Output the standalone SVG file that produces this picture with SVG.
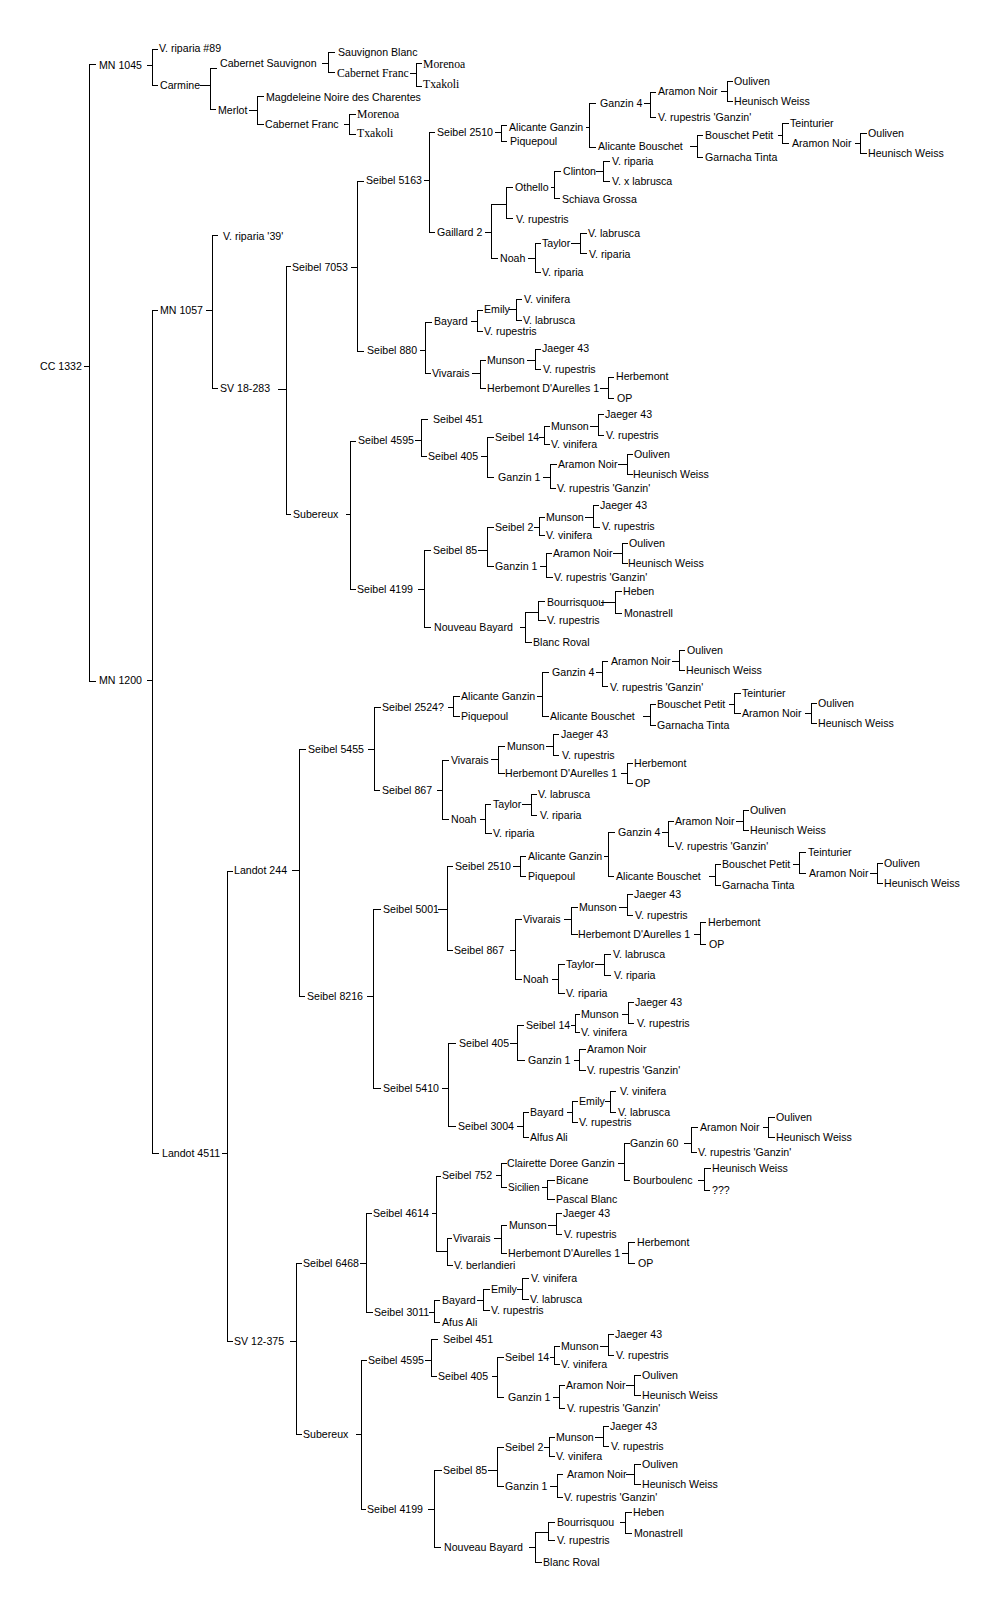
<svg xmlns="http://www.w3.org/2000/svg" width="1007" height="1603" viewBox="0 0 1007 1603">
<style>
text{font-family:"Liberation Sans",Arial,sans-serif;font-size:10.6px;fill:#000}
text.s{font-family:"Liberation Serif","Times New Roman",serif;font-size:11.7px}
text.sm{font-size:10px}
#connectors path{stroke:#000;stroke-width:1;fill:none;shape-rendering:crispEdges}
</style>
<rect width="1007" height="1603" fill="#fff"/>
<g id="connectors" transform="translate(0.5,0.5)">
<path d="M83 366H89 M95 64H89V681H95 M146 65H152 M157 49H152V85H157 M199 85H210 M216 68H210V109H215 M321 63H328 M334 52H328V72H334 M409 73H416 M421 63H416V86H421 M248 110H257 M263 96H257V124H263 M343 124H349 M355 114H349V134H355"/>
<path d="M146 680H152 M157 310H152V1153H158 M205 310H212 M217 235H212V388H217 M277 389H286 M290 266H286V514H290 M350 267H357 M363 181H357V351H363 M423 180H429 M434 132H429V232H434 M494 132H501 M506 125H501V141H506 M585 127H589 M595 103H589V147H595 M643 103H650 M655 92H650V117H655 M720 91H727 M732 81H727V101H732 M689 146H697 M702 135H697V157H702 M777 135H782 M788 123H782V143H788 M854 143H860 M866 133H860V153H866"/>
<path d="M484 232H491 M506 204H491V258H497 M512 187H506V218H512 M550 187H554 M560 171H554V198H559 M595 171H603 M609 161H603V181H609 M527 258H535 M540 243H535V272H540 M570 243H580 M586 233H580V253H586"/>
<path d="M419 350H425 M431 322H425V373H430 M470 321H477 M482 310H477V331H482 M508 309H516 M521 299H516V320H521 M471 373H480 M485 360H480V388H485 M526 360H535 M540 349H535V369H540 M599 388H608 M613 377H608V398H613"/>
<path d="M345 514H350 M355 441H350V589H355 M414 440H421 M427 419H421V456H426 M480 456H487 M493 437H487V477H493 M538 437H544 M549 426H544V444H549 M589 426H598 M603 414H598V435H603 M542 477H550 M556 464H550V488H555 M617 464H627 M632 454H627V474H632"/>
<path d="M417 589H424 M430 550H424V627H430 M477 550H487 M493 527H487V566H493 M533 527H539 M544 517H539V535H544 M584 517H593 M598 505H593V527H599 M539 566H546 M551 553H546V577H552 M612 553H622 M627 543H622V563H627 M519 627H525 M538 612H525V642H531 M544 601H538V620H545 M600 602H615 M621 591H615V613H621"/>
<path d="M221 1153H227 M232 871H227V1341H232 M291 870H299 M305 749H299V996H304 M367 749H374 M380 707H374V790H379 M447 707H453 M459 696H453V716H459 M536 696H542 M548 672H542V716H548 M595 672H602 M607 661H602V686H607 M671 661H679 M684 650H679V670H684 M642 716H650 M655 704H650V725H655 M728 704H734 M740 693H734V713H740 M804 713H811 M816 703H811V723H816"/>
<path d="M436 790H442 M448 760H442V819H448 M490 759H498 M504 746H498V773H504 M545 746H553 M558 734H553V755H558 M620 773H627 M632 763H627V783H632 M479 819H485 M490 804H485V833H491 M521 804H531 M536 794H531V815H536"/>
<path d="M366 996H373 M380 909H373V1088H380 M437 909H447 M452 866H447V950H452 M512 866H520 M525 856H520V876H525 M603 856H608 M614 832H608V876H613 M661 832H668 M673 821H668V846H673 M735 821H743 M748 810H743V830H748 M708 876H715 M720 864H715V885H720 M792 864H799 M805 852H799V873H805 M869 873H877 M882 863H877V883H882"/>
<path d="M509 950H515 M521 919H515V979H521 M563 919H571 M577 907H571V934H577 M618 907H627 M632 894H627V915H632 M693 934H700 M705 922H700V944H705 M551 979H558 M564 964H558V993H564 M594 964H604 M610 954H604V975H610"/>
<path d="M441 1088H448 M455 1043H448V1126H455 M509 1043H517 M523 1025H517V1060H524 M570 1025H575 M579 1014H575V1032H579 M621 1014H628 M633 1002H628V1023H633 M573 1060H579 M585 1049H579V1070H585 M516 1126H523 M528 1112H523V1137H528 M566 1112H572 M577 1101H572V1122H577 M604 1101H610 M615 1091H610V1112H615"/>
<path d="M289 1341H296 M301 1263H296V1434H301 M359 1263H366 M371 1213H366V1312H372 M431 1213H436 M440 1176H436V1251H447 M451 1238H447V1265H452 M495 1175H501 M506 1163H501V1187H506 M617 1163H624 M629 1143H624V1180H629 M683 1143H691 M697 1127H691V1152H696 M762 1127H768 M774 1117H768V1137H774 M697 1180H704 M710 1168H704V1190H709 M541 1187H547 M554 1180H547V1199H554"/>
<path d="M493 1238H501 M506 1225H501V1253H506 M547 1225H556 M561 1213H556V1234H561 M621 1253H628 M634 1242H628V1263H634 M428 1312H434 M439 1300H434V1322H439 M476 1300H483 M489 1289H483V1310H489 M516 1289H522 M528 1278H522V1299H528"/>
<path d="M355 1434H361 M366 1360H361V1509H365 M424 1360H431 M437 1339H431V1376H436 M491 1376H497 M503 1357H497V1397H503 M549 1357H554 M559 1346H554V1364H559 M599 1346H608 M613 1334H608V1355H613 M552 1397H559 M564 1385H559V1408H564 M625 1385H634 M640 1375H634V1395H640"/>
<path d="M427 1509H434 M441 1470H434V1547H440 M487 1470H497 M503 1447H497V1486H503 M543 1447H549 M554 1437H549V1456H554 M594 1437H603 M608 1426H603V1446H608 M549 1486H557 M562 1474H557V1497H562 M625 1474H634 M640 1464H634V1484H640 M528 1547H535 M548 1532H535V1562H541 M554 1522H548V1540H554 M619 1522H625 M631 1512H625V1533H631"/>
</g>
<g id="nodes">
<g id="n1"><text x="40" y="370">CC 1332</text></g>
<g id="n2"><text x="99" y="69">MN 1045</text></g>
<g id="n3"><text x="159" y="52">V. riparia #89</text></g>
<g id="n4"><text x="160" y="89">Carmine</text></g>
<g id="n5"><text x="220" y="67">Cabernet Sauvignon</text></g>
<g id="n6"><text x="218" y="114">Merlot</text></g>
<g id="n7"><text x="338" y="56">Sauvignon Blanc</text></g>
<g id="n8"><text class="s" x="337" y="77">Cabernet Franc</text></g>
<g id="n9"><text class="s" x="423" y="68">Morenoa</text></g>
<g id="n10"><text class="s" x="423" y="88">Txakoli</text></g>
<g id="n11"><text x="266" y="101">Magdeleine Noire des Charentes</text></g>
<g id="n12"><text x="265" y="128">Cabernet Franc</text></g>
<g id="n13"><text class="s" x="357" y="118">Morenoa</text></g>
<g id="n14"><text class="s" x="357" y="137">Txakoli</text></g>
<g id="n15"><text x="99" y="684">MN 1200</text></g>
<g id="n16"><text x="160" y="314">MN 1057</text></g>
<g id="n17"><text x="223" y="240">V. riparia '39'</text></g>
<g id="n18"><text x="220" y="392">SV 18-283</text></g>
<g id="n19"><text x="292" y="271">Seibel 7053</text></g>
<g id="n20"><text x="293" y="518">Subereux</text></g>
<g id="n21"><text x="366" y="184">Seibel 5163</text></g>
<g id="n22"><text x="367" y="354">Seibel 880</text></g>
<g id="n23"><text x="437" y="136">Seibel 2510</text></g>
<g id="n24"><text x="509" y="131">Alicante Ganzin</text></g>
<g id="n25"><text x="510" y="145">Piquepoul</text></g>
<g id="n26"><text x="600" y="107">Ganzin 4</text></g>
<g id="n27"><text x="658" y="95">Aramon Noir</text></g>
<g id="n28"><text x="734" y="85">Ouliven</text></g>
<g id="n29"><text x="734" y="105">Heunisch Weiss</text></g>
<g id="n30"><text x="658" y="121">V. rupestris 'Ganzin'</text></g>
<g id="n31"><text x="598" y="150">Alicante Bouschet</text></g>
<g id="n32"><text x="705" y="139">Bouschet Petit</text></g>
<g id="n33"><text x="790" y="127">Teinturier</text></g>
<g id="n34"><text x="792" y="147">Aramon Noir</text></g>
<g id="n35"><text x="868" y="137">Ouliven</text></g>
<g id="n36"><text x="868" y="157">Heunisch Weiss</text></g>
<g id="n37"><text x="705" y="161">Garnacha Tinta</text></g>
<g id="n38"><text x="437" y="236">Gaillard 2</text></g>
<g id="n39"><text x="515" y="191">Othello</text></g>
<g id="n40"><text x="563" y="175">Clinton</text></g>
<g id="n41"><text x="612" y="165">V. riparia</text></g>
<g id="n42"><text x="612" y="185">V. x labrusca</text></g>
<g id="n43"><text x="562" y="203">Schiava Grossa</text></g>
<g id="n44"><text x="516" y="223">V. rupestris</text></g>
<g id="n45"><text x="500" y="262">Noah</text></g>
<g id="n46"><text x="542" y="247">Taylor</text></g>
<g id="n47"><text x="588" y="237">V. labrusca</text></g>
<g id="n48"><text x="589" y="258">V. riparia</text></g>
<g id="n49"><text x="542" y="276">V. riparia</text></g>
<g id="n50"><text x="434" y="325">Bayard</text></g>
<g id="n51"><text x="484" y="313">Emily</text></g>
<g id="n52"><text x="524" y="303">V. vinifera</text></g>
<g id="n53"><text x="523" y="324">V. labrusca</text></g>
<g id="n54"><text x="484" y="335">V. rupestris</text></g>
<g id="n55"><text x="432" y="377">Vivarais</text></g>
<g id="n56"><text x="487" y="364">Munson</text></g>
<g id="n57"><text x="542" y="352">Jaeger 43</text></g>
<g id="n58"><text x="543" y="373">V. rupestris</text></g>
<g id="n59"><text x="487" y="392">Herbemont D'Aurelles 1</text></g>
<g id="n60"><text x="616" y="380">Herbemont</text></g>
<g id="n61"><text x="617" y="402">OP</text></g>
<g id="n62"><text x="358" y="444">Seibel 4595</text></g>
<g id="n63"><text x="433" y="423">Seibel 451</text></g>
<g id="n64"><text x="428" y="460">Seibel 405</text></g>
<g id="n65"><text x="495" y="441">Seibel 14</text></g>
<g id="n66"><text x="551" y="430">Munson</text></g>
<g id="n67"><text x="605" y="418">Jaeger 43</text></g>
<g id="n68"><text x="606" y="439">V. rupestris</text></g>
<g id="n69"><text x="551" y="448">V. vinifera</text></g>
<g id="n70"><text x="498" y="481">Ganzin 1</text></g>
<g id="n71"><text x="558" y="468">Aramon Noir</text></g>
<g id="n72"><text x="634" y="458">Ouliven</text></g>
<g id="n73"><text x="633" y="478">Heunisch Weiss</text></g>
<g id="n74"><text x="557" y="492">V. rupestris 'Ganzin'</text></g>
<g id="n75"><text x="357" y="593">Seibel 4199</text></g>
<g id="n76"><text x="433" y="554">Seibel 85</text></g>
<g id="n77"><text x="495" y="531">Seibel 2</text></g>
<g id="n78"><text x="546" y="521">Munson</text></g>
<g id="n79"><text x="600" y="509">Jaeger 43</text></g>
<g id="n80"><text x="602" y="530">V. rupestris</text></g>
<g id="n81"><text x="546" y="539">V. vinifera</text></g>
<g id="n82"><text x="495" y="570">Ganzin 1</text></g>
<g id="n83"><text x="553" y="557">Aramon Noir</text></g>
<g id="n84"><text x="629" y="547">Ouliven</text></g>
<g id="n85"><text x="628" y="567">Heunisch Weiss</text></g>
<g id="n86"><text x="554" y="581">V. rupestris 'Ganzin'</text></g>
<g id="n87"><text x="434" y="631">Nouveau Bayard</text></g>
<g id="n88"><text x="547" y="606">Bourrisquou</text></g>
<g id="n89"><text x="547" y="624">V. rupestris</text></g>
<g id="n90"><text x="623" y="595">Heben</text></g>
<g id="n91"><text x="624" y="617">Monastrell</text></g>
<g id="n92"><text x="533" y="646">Blanc Roval</text></g>
<g id="n93"><text x="162" y="1157">Landot 4511</text></g>
<g id="n94"><text x="234" y="874">Landot 244</text></g>
<g id="n95"><text x="308" y="753">Seibel 5455</text></g>
<g id="n96"><text x="307" y="1000">Seibel 8216</text></g>
<g id="n97"><text x="382" y="711">Seibel 2524?</text></g>
<g id="n98"><text x="461" y="700">Alicante Ganzin</text></g>
<g id="n99"><text x="461" y="720">Piquepoul</text></g>
<g id="n100"><text x="552" y="676">Ganzin 4</text></g>
<g id="n101"><text x="611" y="665">Aramon Noir</text></g>
<g id="n102"><text x="687" y="654">Ouliven</text></g>
<g id="n103"><text x="686" y="674">Heunisch Weiss</text></g>
<g id="n104"><text x="610" y="691">V. rupestris 'Ganzin'</text></g>
<g id="n105"><text x="550" y="720">Alicante Bouschet</text></g>
<g id="n106"><text x="657" y="708">Bouschet Petit</text></g>
<g id="n107"><text x="742" y="697">Teinturier</text></g>
<g id="n108"><text x="742" y="717">Aramon Noir</text></g>
<g id="n109"><text x="818" y="707">Ouliven</text></g>
<g id="n110"><text x="818" y="727">Heunisch Weiss</text></g>
<g id="n111"><text x="657" y="729">Garnacha Tinta</text></g>
<g id="n112"><text x="382" y="794">Seibel 867</text></g>
<g id="n113"><text x="451" y="764">Vivarais</text></g>
<g id="n114"><text x="507" y="750">Munson</text></g>
<g id="n115"><text x="561" y="738">Jaeger 43</text></g>
<g id="n116"><text x="562" y="759">V. rupestris</text></g>
<g id="n117"><text x="505" y="777">Herbemont D'Aurelles 1</text></g>
<g id="n118"><text x="634" y="767">Herbemont</text></g>
<g id="n119"><text x="635" y="787">OP</text></g>
<g id="n120"><text x="451" y="823">Noah</text></g>
<g id="n121"><text x="493" y="808">Taylor</text></g>
<g id="n122"><text x="538" y="798">V. labrusca</text></g>
<g id="n123"><text x="540" y="819">V. riparia</text></g>
<g id="n124"><text x="493" y="837">V. riparia</text></g>
<g id="n125"><text x="383" y="913">Seibel 5001</text></g>
<g id="n126"><text x="455" y="870">Seibel 2510</text></g>
<g id="n127"><text x="528" y="860">Alicante Ganzin</text></g>
<g id="n128"><text x="528" y="880">Piquepoul</text></g>
<g id="n129"><text x="618" y="836">Ganzin 4</text></g>
<g id="n130"><text x="675" y="825">Aramon Noir</text></g>
<g id="n131"><text x="750" y="814">Ouliven</text></g>
<g id="n132"><text x="750" y="834">Heunisch Weiss</text></g>
<g id="n133"><text x="675" y="850">V. rupestris 'Ganzin'</text></g>
<g id="n134"><text x="616" y="880">Alicante Bouschet</text></g>
<g id="n135"><text x="722" y="868">Bouschet Petit</text></g>
<g id="n136"><text x="808" y="856">Teinturier</text></g>
<g id="n137"><text x="809" y="877">Aramon Noir</text></g>
<g id="n138"><text x="884" y="867">Ouliven</text></g>
<g id="n139"><text x="884" y="887">Heunisch Weiss</text></g>
<g id="n140"><text x="722" y="889">Garnacha Tinta</text></g>
<g id="n141"><text x="454" y="954">Seibel 867</text></g>
<g id="n142"><text x="523" y="923">Vivarais</text></g>
<g id="n143"><text x="579" y="911">Munson</text></g>
<g id="n144"><text x="634" y="898">Jaeger 43</text></g>
<g id="n145"><text x="635" y="919">V. rupestris</text></g>
<g id="n146"><text x="578" y="938">Herbemont D'Aurelles 1</text></g>
<g id="n147"><text x="708" y="926">Herbemont</text></g>
<g id="n148"><text x="709" y="948">OP</text></g>
<g id="n149"><text x="523" y="983">Noah</text></g>
<g id="n150"><text x="566" y="968">Taylor</text></g>
<g id="n151"><text x="613" y="958">V. labrusca</text></g>
<g id="n152"><text x="614" y="979">V. riparia</text></g>
<g id="n153"><text x="566" y="997">V. riparia</text></g>
<g id="n154"><text x="383" y="1092">Seibel 5410</text></g>
<g id="n155"><text x="459" y="1047">Seibel 405</text></g>
<g id="n156"><text x="526" y="1029">Seibel 14</text></g>
<g id="n157"><text x="581" y="1018">Munson</text></g>
<g id="n158"><text x="635" y="1006">Jaeger 43</text></g>
<g id="n159"><text x="637" y="1027">V. rupestris</text></g>
<g id="n160"><text x="581" y="1036">V. vinifera</text></g>
<g id="n161"><text x="528" y="1064">Ganzin 1</text></g>
<g id="n162"><text x="587" y="1053">Aramon Noir</text></g>
<g id="n163"><text x="587" y="1074">V. rupestris 'Ganzin'</text></g>
<g id="n164"><text x="458" y="1130">Seibel 3004</text></g>
<g id="n165"><text x="530" y="1116">Bayard</text></g>
<g id="n166"><text x="579" y="1105">Emily</text></g>
<g id="n167"><text x="620" y="1095">V. vinifera</text></g>
<g id="n168"><text x="618" y="1116">V. labrusca</text></g>
<g id="n169"><text x="579" y="1126">V. rupestris</text></g>
<g id="n170"><text x="530" y="1141">Alfus Ali</text></g>
<g id="n171"><text x="234" y="1345">SV 12-375</text></g>
<g id="n172"><text x="303" y="1267">Seibel 6468</text></g>
<g id="n173"><text x="373" y="1217">Seibel 4614</text></g>
<g id="n174"><text x="442" y="1179">Seibel 752</text></g>
<g id="n175"><text x="507" y="1167">Clairette Doree Ganzin</text></g>
<g id="n176"><text x="630" y="1147">Ganzin 60</text></g>
<g id="n177"><text x="700" y="1131">Aramon Noir</text></g>
<g id="n178"><text x="776" y="1121">Ouliven</text></g>
<g id="n179"><text x="776" y="1141">Heunisch Weiss</text></g>
<g id="n180"><text x="698" y="1156">V. rupestris 'Ganzin'</text></g>
<g id="n181"><text x="633" y="1184">Bourboulenc</text></g>
<g id="n182"><text x="712" y="1172">Heunisch Weiss</text></g>
<g id="n183"><text x="712" y="1194">???</text></g>
<g id="n184"><text class="sm" x="508" y="1191">Sicilien</text></g>
<g id="n185"><text x="556" y="1184">Bicane</text></g>
<g id="n186"><text x="556" y="1203">Pascal Blanc</text></g>
<g id="n187"><text x="453" y="1242">Vivarais</text></g>
<g id="n188"><text x="509" y="1229">Munson</text></g>
<g id="n189"><text x="563" y="1217">Jaeger 43</text></g>
<g id="n190"><text x="564" y="1238">V. rupestris</text></g>
<g id="n191"><text x="508" y="1257">Herbemont D'Aurelles 1</text></g>
<g id="n192"><text x="637" y="1246">Herbemont</text></g>
<g id="n193"><text x="638" y="1267">OP</text></g>
<g id="n194"><text x="454" y="1269">V. berlandieri</text></g>
<g id="n195"><text x="374" y="1316">Seibel 3011</text></g>
<g id="n196"><text x="442" y="1304">Bayard</text></g>
<g id="n197"><text x="491" y="1293">Emily</text></g>
<g id="n198"><text x="531" y="1282">V. vinifera</text></g>
<g id="n199"><text x="530" y="1303">V. labrusca</text></g>
<g id="n200"><text x="491" y="1314">V. rupestris</text></g>
<g id="n201"><text x="442" y="1326">Afus Ali</text></g>
<g id="n202"><text x="303" y="1438">Subereux</text></g>
<g id="n203"><text x="368" y="1364">Seibel 4595</text></g>
<g id="n204"><text x="443" y="1343">Seibel 451</text></g>
<g id="n205"><text x="438" y="1380">Seibel 405</text></g>
<g id="n206"><text x="505" y="1361">Seibel 14</text></g>
<g id="n207"><text x="561" y="1350">Munson</text></g>
<g id="n208"><text x="615" y="1338">Jaeger 43</text></g>
<g id="n209"><text x="616" y="1359">V. rupestris</text></g>
<g id="n210"><text x="561" y="1368">V. vinifera</text></g>
<g id="n211"><text x="508" y="1401">Ganzin 1</text></g>
<g id="n212"><text x="566" y="1389">Aramon Noir</text></g>
<g id="n213"><text x="642" y="1379">Ouliven</text></g>
<g id="n214"><text x="642" y="1399">Heunisch Weiss</text></g>
<g id="n215"><text x="567" y="1412">V. rupestris 'Ganzin'</text></g>
<g id="n216"><text x="367" y="1513">Seibel 4199</text></g>
<g id="n217"><text x="443" y="1474">Seibel 85</text></g>
<g id="n218"><text x="505" y="1451">Seibel 2</text></g>
<g id="n219"><text x="556" y="1441">Munson</text></g>
<g id="n220"><text x="610" y="1430">Jaeger 43</text></g>
<g id="n221"><text x="611" y="1450">V. rupestris</text></g>
<g id="n222"><text x="556" y="1460">V. vinifera</text></g>
<g id="n223"><text x="505" y="1490">Ganzin 1</text></g>
<g id="n224"><text x="567" y="1478">Aramon Noir</text></g>
<g id="n225"><text x="642" y="1468">Ouliven</text></g>
<g id="n226"><text x="642" y="1488">Heunisch Weiss</text></g>
<g id="n227"><text x="564" y="1501">V. rupestris 'Ganzin'</text></g>
<g id="n228"><text x="444" y="1551">Nouveau Bayard</text></g>
<g id="n229"><text x="557" y="1526">Bourrisquou</text></g>
<g id="n230"><text x="557" y="1544">V. rupestris</text></g>
<g id="n231"><text x="633" y="1516">Heben</text></g>
<g id="n232"><text x="634" y="1537">Monastrell</text></g>
<g id="n233"><text x="543" y="1566">Blanc Roval</text></g>
</g>
</svg>
